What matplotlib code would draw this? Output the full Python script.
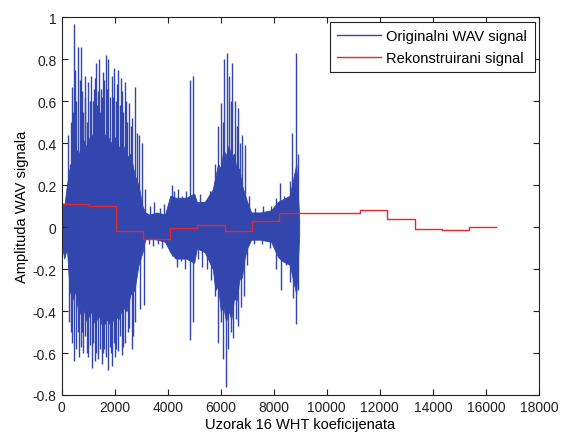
import numpy as np
import matplotlib
matplotlib.use("Agg")
import matplotlib.pyplot as plt
from matplotlib.lines import Line2D

plt.rcParams['font.family'] = ['Liberation Sans', 'DejaVu Sans']

# dense part of the original signal (envelope)
core_x = [0, 100, 200, 300, 400, 500, 650, 800, 950, 1100, 1250, 1400, 1550, 1700, 1850,
          2000, 2150, 2300, 2450, 2600, 2750, 2900, 3050, 3150, 3300, 3600, 3900, 4100,
          4300, 4700, 5000, 5100, 5400, 5700, 5800, 5900, 6000, 6100, 6200, 6300, 6400,
          6500, 6600, 6700, 6800, 6900, 7000, 7150, 7500, 7900, 8150, 8300, 8600, 8850, 8960]
core_hi = [0.12, 0.10, 0.20, 0.28, 0.25, 0.38, 0.35, 0.42, 0.38, 0.45, 0.40, 0.46, 0.42, 0.45, 0.40,
           0.43, 0.38, 0.40, 0.33, 0.35, 0.25, 0.20, 0.10, 0.07, 0.06, 0.07, 0.06, 0.15,
           0.14, 0.14, 0.16, 0.12, 0.12, 0.18, 0.24, 0.30, 0.28, 0.37, 0.34, 0.39, 0.33,
           0.35, 0.27, 0.28, 0.20, 0.16, 0.12, 0.07, 0.07, 0.08, 0.12, 0.13, 0.15, 0.30, 0.04]
core_lo = [-0.08, -0.15, -0.10, -0.30, -0.35, -0.30, -0.42, -0.38, -0.45, -0.40, -0.46, -0.42, -0.48, -0.44, -0.47,
           -0.42, -0.44, -0.38, -0.40, -0.32, -0.30, -0.18, -0.12, -0.06, -0.05, -0.06, -0.07, -0.12,
           -0.15, -0.15, -0.17, -0.10, -0.12, -0.20, -0.30, -0.28, -0.40, -0.38, -0.45, -0.40, -0.44,
           -0.34, -0.35, -0.25, -0.24, -0.15, -0.10, -0.06, -0.06, -0.07, -0.14, -0.16, -0.18, -0.32, -0.04]

# individual peaks sticking out of the dense part
up_x = [230, 300, 350, 380, 430, 480, 520, 560, 630, 680, 730, 760, 800, 870, 900, 950,
        1010, 1060, 1110, 1180, 1220, 1260, 1290, 1330, 1385, 1420, 1450, 1480, 1530, 1560,
        1600, 1660, 1700, 1760, 1820, 1890, 1930, 1990, 2060, 2100, 2140, 2200, 2240, 2280,
        2320, 2390, 2440, 2470, 2540, 2600, 2670, 2770, 2840, 2900, 3045, 3150, 3350, 3500,
        3700, 3850, 4150, 4250, 4400, 4550, 4700, 4850, 4970, 5200, 5450, 5600, 5800, 5910,
        6015, 6080, 6140, 6230, 6315, 6380, 6440, 6545, 6610, 6670, 6740, 6800, 6920, 7050,
        7300, 7600, 7900, 8100, 8240, 8400, 8600, 8680, 8830, 8900]
up_y = [0.44, 0.30, 0.50, 0.67, 0.55, 0.97, 0.75, 0.60, 0.86, 0.70, 0.86, 0.65, 0.55, 0.62, 0.72, 0.50,
        0.69, 0.60, 0.72, 0.60, 0.66, 0.71, 0.78, 0.58, 0.65, 0.80, 0.55, 0.66, 0.62, 0.74,
        0.70, 0.82, 0.66, 0.80, 0.62, 0.72, 0.62, 0.76, 0.60, 0.68, 0.75, 0.58, 0.71, 0.65,
        0.55, 0.69, 0.60, 0.50, 0.59, 0.48, 0.52, 0.67, 0.45, 0.44, 0.40, 0.18, 0.10, 0.12,
        0.09, 0.11, 0.20, 0.17, 0.18, 0.15, 0.17, 0.70, 0.72, 0.16, 0.13, 0.17, 0.30, 0.48,
        0.59, 0.50, 0.80, 0.83, 0.72, 0.60, 0.78, 0.60, 0.48, 0.57, 0.40, 0.44, 0.39, 0.15,
        0.09, 0.10, 0.10, 0.14, 0.21, 0.15, 0.22, 0.45, 0.83, 0.35]
down_x = [150, 280, 350, 400, 480, 540, 600, 660, 730, 780, 820, 900, 960, 1010, 1070, 1135,
          1200, 1250, 1300, 1385, 1450, 1510, 1560, 1600, 1680, 1740, 1810, 1850, 1890, 1960,
          2000, 2050, 2140, 2200, 2270, 2330, 2390, 2500, 2560, 2645, 2700, 2750, 2960, 3120,
          3300, 3450, 3650, 3800, 4000, 4150, 4350, 4500, 4650, 4850, 4970, 5150, 5300, 5500,
          5650, 5800, 5910, 6000, 6100, 6190, 6290, 6380, 6480, 6580, 6670, 6760, 6860, 7000,
          7250, 7550, 7850, 8100, 8280, 8450, 8600, 8740, 8830, 8900]
down_y = [-0.12, -0.45, -0.50, -0.55, -0.64, -0.58, -0.50, -0.62, -0.57, -0.50, -0.60, -0.52, -0.60, -0.62, -0.56, -0.67,
          -0.55, -0.64, -0.60, -0.63, -0.58, -0.65, -0.60, -0.58, -0.62, -0.68, -0.57, -0.60, -0.66, -0.55,
          -0.62, -0.58, -0.59, -0.52, -0.61, -0.57, -0.55, -0.50, -0.48, -0.58, -0.52, -0.45, -0.39, -0.37,
          -0.08, -0.09, -0.08, -0.10, -0.09, -0.14, -0.19, -0.16, -0.20, -0.54, -0.45, -0.15, -0.19, -0.20,
          -0.25, -0.33, -0.55, -0.45, -0.63, -0.76, -0.58, -0.50, -0.53, -0.44, -0.47, -0.38, -0.33, -0.18,
          -0.08, -0.08, -0.10, -0.20, -0.30, -0.18, -0.26, -0.34, -0.46, -0.30]

# reconstructed signal: one level per block of 1024 samples
block = 1024
rec_vals = [0.110, 0.102, -0.017, -0.057, -0.006, 0.010, -0.017, 0.030,
            0.067, 0.067, 0.067, 0.083, 0.039, -0.009, -0.015, 0.002]

blue = '#3346ad'
red = '#e8262d'

fig = plt.figure(figsize=(5.62, 4.35), dpi=100)
ax = fig.add_axes([0.1096, 0.0897, 0.8494, 0.8683])

ax.fill_between(core_x, core_lo, core_hi, color=blue, lw=0.6)
ax.vlines(up_x, 0, up_y, color=blue, lw=1.0)
ax.vlines(down_x, down_y, 0, color=blue, lw=1.0)

edges = np.arange(len(rec_vals) + 1) * block
ax.plot(edges, rec_vals + rec_vals[-1:], drawstyle='steps-post', color=red, lw=1.0)

ax.set_xlim(0, 18000)
ax.set_ylim(-0.8, 1)
ax.set_xticks(np.arange(0, 18001, 2000))
ax.set_yticks(np.round(np.arange(-0.8, 1.01, 0.2), 1))
ax.set_yticklabels(['-0.8', '-0.6', '-0.4', '-0.2', '0', '0.2', '0.4', '0.6', '0.8', '1'])
ax.tick_params(direction='in', top=True, right=True, length=4, labelsize=10, colors='#222222')
for s in ax.spines.values():
    s.set_color('#222222')
    s.set_linewidth(0.8)

ax.set_xlabel('Uzorak 16 WHT koeficijenata', fontsize=10.5, labelpad=2)
ax.set_ylabel('Amplituda WAV signala', fontsize=10.5, labelpad=3)

handles = [Line2D([], [], color=blue, lw=1.0), Line2D([], [], color=red, lw=1.0)]
leg = ax.legend(handles, ['Originalni WAV signal', 'Rekonstruirani signal'], loc='upper right',
                fontsize=10.5, fancybox=False, framealpha=1, edgecolor='#222222',
                borderaxespad=0.3, handlelength=3.0, handletextpad=0.4,
                labelspacing=0.55, borderpad=0.5)
leg.get_frame().set_linewidth(0.8)

fig.savefig('out.png', dpi=100)
